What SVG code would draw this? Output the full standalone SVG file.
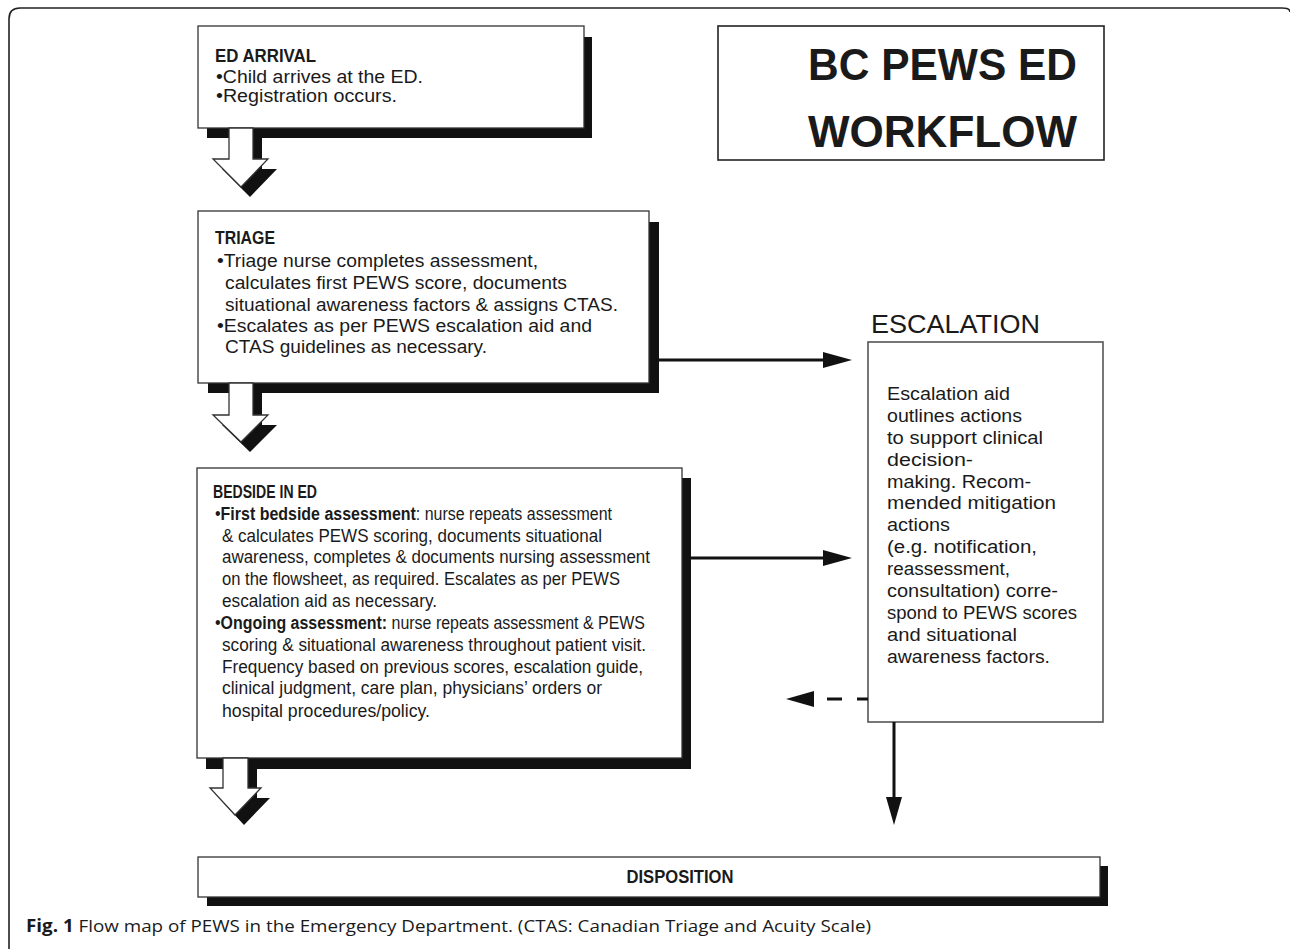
<svg xmlns="http://www.w3.org/2000/svg" width="1290" height="949" viewBox="0 0 1290 949">
<style>
.box{fill:#fff;stroke:#333;stroke-width:1.3}
.sh{fill:#111}
.arr{fill:#fff;stroke:#333;stroke-width:1.3}
.t{font-family:"Liberation Sans",Arial,sans-serif;font-size:17.5px;fill:#1a1a1a}
.b{font-weight:bold}
.ttl{font-family:"Liberation Sans",Arial,sans-serif;font-size:45px;font-weight:bold;fill:#1a1a1a}
.esc{font-family:"Liberation Sans",Arial,sans-serif;font-size:25px;fill:#1a1a1a}
.cap{font-family:"Open Sans","Liberation Sans",sans-serif;font-size:17px;fill:#1a1a1a}
.ln{stroke:#111;stroke-width:3;fill:none}
.hd{fill:#111}
</style>
<path d="M9,949 L9,19 Q9,8 20,8 L1282,8 Q1290,8 1290,12" fill="none" stroke="#222" stroke-width="1.6"/>

<g id="title">
<rect x="718" y="26" width="386" height="134" fill="#fff" stroke="#222" stroke-width="1.6"/>
<text class="ttl" x="1077" y="80" text-anchor="end" textLength="269" lengthAdjust="spacingAndGlyphs">BC PEWS ED</text>
<text class="ttl" x="1077" y="147" text-anchor="end" textLength="269" lengthAdjust="spacingAndGlyphs">WORKFLOW</text>
</g>

<g id="ed-arrival">
<rect class="sh" x="207" y="37" width="385" height="101"/>
<polygon class="sh" points="238,138 262,138 262,169 277,169 250,197 222,169 238,169"/>
<rect class="box" x="198" y="26" width="386" height="102"/>
<polygon class="arr" points="229,128 253,128 253,159 268,159 241,187 213,159 229,159"/>
<text class="t b" x="215" y="62" textLength="101" lengthAdjust="spacingAndGlyphs">ED ARRIVAL</text>
<text class="t" x="216" y="83" textLength="207" lengthAdjust="spacingAndGlyphs">•Child arrives at the ED.</text>
<text class="t" x="216" y="102" textLength="181" lengthAdjust="spacingAndGlyphs">•Registration occurs.</text>
</g>

<g id="triage">
<rect class="sh" x="208" y="222" width="451" height="171"/>
<polygon class="sh" points="238,393 262,393 262,425 277,425 250,452 222,425 238,425"/>
<rect class="box" x="198" y="211" width="451" height="172"/>
<polygon class="arr" points="229,383 253,383 253,415 268,415 241,442 213,415 229,415"/>
<text class="t b" x="215" y="244" textLength="60" lengthAdjust="spacingAndGlyphs">TRIAGE</text>
<text class="t" x="217" y="267" textLength="321" lengthAdjust="spacingAndGlyphs">•Triage nurse completes assessment,</text>
<text class="t" x="225" y="289" textLength="342" lengthAdjust="spacingAndGlyphs">calculates first PEWS score, documents</text>
<text class="t" x="225" y="311" textLength="393" lengthAdjust="spacingAndGlyphs">situational awareness factors &amp; assigns CTAS.</text>
<text class="t" x="217" y="332" textLength="375" lengthAdjust="spacingAndGlyphs">•Escalates as per PEWS escalation aid and</text>
<text class="t" x="225" y="353" textLength="262" lengthAdjust="spacingAndGlyphs">CTAS guidelines as necessary.</text>
</g>

<g id="bedside">
<rect class="sh" x="206" y="478" width="485" height="291"/>
<polygon class="sh" points="232,768 257,768 257,798 270,798 244,825 219,798 232,798"/>
<rect class="box" x="197" y="468" width="485" height="290"/>
<polygon class="arr" points="223,758 248,758 248,788 261,788 235,815 210,788 223,788"/>
<text class="t b" x="213" y="498" textLength="104" lengthAdjust="spacingAndGlyphs">BEDSIDE IN ED</text>
<text class="t" x="215" y="520" textLength="397" lengthAdjust="spacingAndGlyphs">•<tspan class="b">First bedside assessment</tspan>: nurse repeats assessment</text>
<text class="t" x="222" y="542" textLength="380" lengthAdjust="spacingAndGlyphs">&amp; calculates PEWS scoring, documents situational</text>
<text class="t" x="222" y="563" textLength="428" lengthAdjust="spacingAndGlyphs">awareness, completes &amp; documents nursing assessment</text>
<text class="t" x="222" y="585" textLength="398" lengthAdjust="spacingAndGlyphs">on the flowsheet, as required. Escalates as per PEWS</text>
<text class="t" x="222" y="607" textLength="215" lengthAdjust="spacingAndGlyphs">escalation aid as necessary.</text>
<text class="t" x="215" y="629" textLength="430" lengthAdjust="spacingAndGlyphs">•<tspan class="b">Ongoing assessment:</tspan> nurse repeats assessment &amp; PEWS</text>
<text class="t" x="222" y="651" textLength="424" lengthAdjust="spacingAndGlyphs">scoring &amp; situational awareness throughout patient visit.</text>
<text class="t" x="222" y="673" textLength="421" lengthAdjust="spacingAndGlyphs">Frequency based on previous scores, escalation guide,</text>
<text class="t" x="222" y="694" textLength="380" lengthAdjust="spacingAndGlyphs">clinical judgment, care plan, physicians’ orders or</text>
<text class="t" x="222" y="717" textLength="208" lengthAdjust="spacingAndGlyphs">hospital procedures/policy.</text>
</g>

<g id="escalation">
<text class="esc" x="871" y="333" textLength="169" lengthAdjust="spacingAndGlyphs">ESCALATION</text>
<rect x="868" y="342" width="235" height="380" fill="#fff" stroke="#555" stroke-width="1.6"/>
<text class="t" x="887" y="400" textLength="123" lengthAdjust="spacingAndGlyphs">Escalation aid</text>
<text class="t" x="887" y="422" textLength="135" lengthAdjust="spacingAndGlyphs">outlines actions</text>
<text class="t" x="887" y="444" textLength="156" lengthAdjust="spacingAndGlyphs">to support clinical</text>
<text class="t" x="887" y="466" textLength="86" lengthAdjust="spacingAndGlyphs">decision-</text>
<text class="t" x="887" y="488" textLength="144" lengthAdjust="spacingAndGlyphs">making. Recom-</text>
<text class="t" x="887" y="509" textLength="169" lengthAdjust="spacingAndGlyphs">mended mitigation</text>
<text class="t" x="887" y="531" textLength="63" lengthAdjust="spacingAndGlyphs">actions</text>
<text class="t" x="887" y="553" textLength="150" lengthAdjust="spacingAndGlyphs">(e.g. notification,</text>
<text class="t" x="887" y="575" textLength="123" lengthAdjust="spacingAndGlyphs">reassessment,</text>
<text class="t" x="887" y="597" textLength="171" lengthAdjust="spacingAndGlyphs">consultation) corre-</text>
<text class="t" x="887" y="619" textLength="190" lengthAdjust="spacingAndGlyphs">spond to PEWS scores</text>
<text class="t" x="887" y="641" textLength="130" lengthAdjust="spacingAndGlyphs">and situational</text>
<text class="t" x="887" y="663" textLength="163" lengthAdjust="spacingAndGlyphs">awareness factors.</text>
</g>

<g id="disposition">
<rect class="sh" x="207" y="866" width="901" height="40"/>
<rect class="box" x="198" y="857" width="902" height="40"/>
<text class="t b" x="680" y="883" text-anchor="middle" font-size="15" textLength="107" lengthAdjust="spacingAndGlyphs">DISPOSITION</text>
</g>

<g id="connectors">
<line class="ln" x1="659" y1="360" x2="825" y2="360"/>
<polygon class="hd" points="823,352 852,360 823,368"/>
<line class="ln" x1="691" y1="558" x2="825" y2="558"/>
<polygon class="hd" points="823,550 852,558 823,566"/>
<line class="ln" x1="868" y1="699" x2="813" y2="699" stroke-dasharray="11,15,15,15"/>
<polygon class="hd" points="814,691 786,699 814,707"/>
<line class="ln" x1="894" y1="722" x2="894" y2="799"/>
<polygon class="hd" points="886,797 894,825 902,797"/>
</g>

<g id="caption">
<text class="cap" x="26" y="932" textLength="845" lengthAdjust="spacingAndGlyphs"><tspan font-weight="bold">Fig. 1</tspan> Flow map of PEWS in the Emergency Department. (CTAS: Canadian Triage and Acuity Scale)</text>
</g>
</svg>
